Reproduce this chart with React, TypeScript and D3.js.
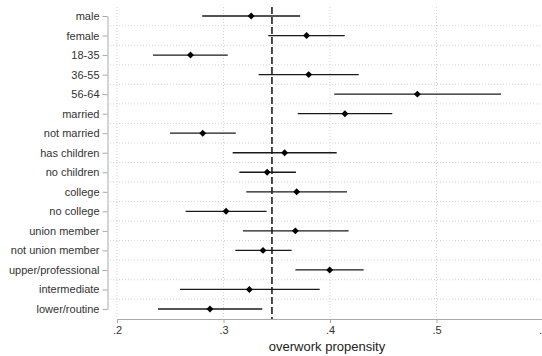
import React, { useRef, useEffect } from 'react';
import * as d3 from 'd3';

const categories = [
  'male', 'female', '18-35', '36-55', '56-64', 'married', 'not married',
  'has children', 'no children', 'college', 'no college', 'union member',
  'not union member', 'upper/professional', 'intermediate', 'lower/routine',
];
const estimates = [
  0.326, 0.378, 0.269, 0.380, 0.482, 0.414, 0.2805, 0.3574,
  0.341, 0.3687, 0.3024, 0.3675, 0.3371, 0.3997, 0.3243, 0.2873,
];
const lower = [
  0.280, 0.342, 0.2338, 0.333, 0.404, 0.3697, 0.2498, 0.3086,
  0.3149, 0.3214, 0.2645, 0.3183, 0.3111, 0.3675, 0.2592, 0.2385,
];
const upper = [
  0.372, 0.4138, 0.304, 0.427, 0.5606, 0.4585, 0.3115, 0.4063,
  0.368, 0.416, 0.3405, 0.4175, 0.364, 0.4316, 0.3903, 0.3364,
];
const xTicks = [0.2, 0.3, 0.4, 0.5, 0.6];
const overallMean = 0.3455;

const W = 542;
const H = 356;

const App = () => {
  const ref = useRef<SVGSVGElement>(null);

  useEffect(() => {
    const svg = d3.select(ref.current);
    svg.selectAll('*').remove();

    const font = '"Liberation Sans", Arial, sans-serif';
    const x = d3.scaleLinear().domain([0.2, 0.6]).range([117, 543]);
    const y = d3.scalePoint<string>().domain(categories).range([16, 309]);
    const step = y.step();
    const top = 7;
    const bottom = 319;

    const g = svg.append('g');

    // vertical grid
    g.selectAll('.vgrid')
      .data(xTicks.slice(0, 4))
      .join('line')
      .attr('x1', (d) => x(d))
      .attr('x2', (d) => x(d))
      .attr('y1', top)
      .attr('y2', bottom)
      .attr('stroke', '#d4d4d4')
      .attr('stroke-width', 1)
      .attr('stroke-dasharray', '1,2');

    // horizontal grid between rows
    g.selectAll('.hgrid')
      .data(categories.slice(1))
      .join('line')
      .attr('x1', 110)
      .attr('x2', W)
      .attr('y1', (d) => (y(d) as number) - step / 2)
      .attr('y2', (d) => (y(d) as number) - step / 2)
      .attr('stroke', '#d4d4d4')
      .attr('stroke-width', 1)
      .attr('stroke-dasharray', '1,2');

    // y axis
    const yAxis = g.append('g').attr('transform', 'translate(107.5,0)')
      .call(d3.axisLeft(y).tickSize(5).tickPadding(3).tickSizeOuter(0));
    yAxis.select('.domain').attr('stroke', '#aaaaaa');
    yAxis.selectAll('.tick line').attr('stroke', '#aaaaaa');
    yAxis.selectAll('text')
      .attr('fill', '#333')
      .attr('font-size', '11px')
      .attr('font-family', font);

    // x axis
    const xAxis = g.append('g').attr('transform', `translate(0,${bottom})`)
      .call(
        d3.axisBottom(x)
          .tickValues(xTicks)
          .tickSize(4)
          .tickPadding(3)
          .tickSizeOuter(0)
          .tickFormat((d) => d3.format('.1f')(d as number).replace(/^0/, ''))
      );
    xAxis.select('.domain').attr('stroke', '#aaaaaa');
    xAxis.selectAll('.tick line').attr('stroke', '#aaaaaa');
    xAxis.selectAll('text')
      .attr('fill', '#333')
      .attr('font-size', '11px')
      .attr('font-family', font);

    // reference line
    g.append('line')
      .attr('x1', x(overallMean))
      .attr('x2', x(overallMean))
      .attr('y1', top)
      .attr('y2', bottom)
      .attr('stroke', '#111')
      .attr('stroke-width', 1.5)
      .attr('stroke-dasharray', '7,3');

    // confidence intervals
    g.selectAll('.ci')
      .data(categories)
      .join('line')
      .attr('x1', (_, i) => x(lower[i]))
      .attr('x2', (_, i) => x(upper[i]))
      .attr('y1', (d) => y(d) as number)
      .attr('y2', (d) => y(d) as number)
      .attr('stroke', '#1a1a1a')
      .attr('stroke-width', 1.3);

    // point estimates (square rotated into a diamond)
    const square = d3.symbol(d3.symbolSquare, 24);
    g.selectAll('.pt')
      .data(categories)
      .join('path')
      .attr('d', square)
      .attr('transform', (d, i) => `translate(${x(estimates[i])},${y(d)}) rotate(45)`)
      .attr('fill', '#000');

    g.append('text')
      .attr('x', 327)
      .attr('y', 351)
      .attr('text-anchor', 'middle')
      .attr('font-size', '13px')
      .attr('font-family', font)
      .attr('fill', '#222')
      .text('overwork propensity');
  }, []);

  return (
    <svg
      ref={ref}
      width={W}
      height={H}
      style={{ position: 'absolute', left: 0, top: 0, background: '#fff' }}
    />
  );
};

export default App;
